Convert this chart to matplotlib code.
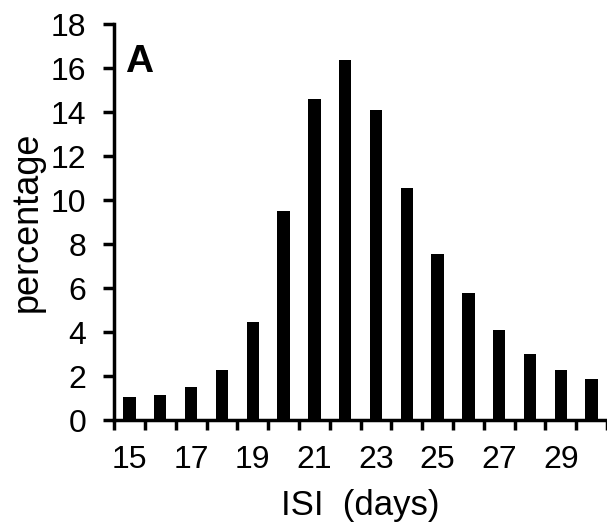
import numpy as np
import matplotlib.pyplot as plt

plt.rcParams['font.family'] = ['Liberation Sans', 'DejaVu Sans']

days = np.arange(15, 31)
percentage = [1.04, 1.16, 1.51, 2.27, 4.48, 9.49, 14.58, 16.35,
              14.09, 10.53, 7.56, 5.76, 4.09, 3.02, 2.27, 1.86]
label_days = [15, 17, 19, 21, 23, 25, 27, 29]

fig = plt.figure(figsize=(6.07, 5.31), dpi=100)
ax = fig.add_axes([0.188, 0.2085, 0.812, 0.7463])

ax.bar(days, percentage, width=0.4, color='black')

ax.set_xlim(14.5, 30.5)
ax.set_ylim(0, 18)
ax.set_yticks(np.arange(0, 19, 2))

# Excel style: ticks between categories, labels on every other category
ax.set_xticks(label_days)
ax.set_xticklabels([str(d) for d in label_days])
ax.set_xticks(np.arange(14.5, 31, 1), minor=True)
ax.tick_params(axis='x', which='major', length=0, pad=18, labelsize=23)
ax.tick_params(axis='x', which='minor', length=7, width=2.5, direction='out')
ax.tick_params(axis='y', length=8, width=2.5, direction='out', labelsize=23, pad=12)

for side in ['top', 'right']:
    ax.spines[side].set_visible(False)
for side in ['left', 'bottom']:
    ax.spines[side].set_linewidth(2.5)

ax.set_ylabel('percentage', fontsize=26, labelpad=4)
ax.set_xlabel('ISI  (days)', fontsize=25, labelpad=10)
ax.text(0.022, 0.95, 'A', transform=ax.transAxes, fontsize=28,
        fontweight='bold', va='top', ha='left')

fig.savefig('out.png', dpi=100)
